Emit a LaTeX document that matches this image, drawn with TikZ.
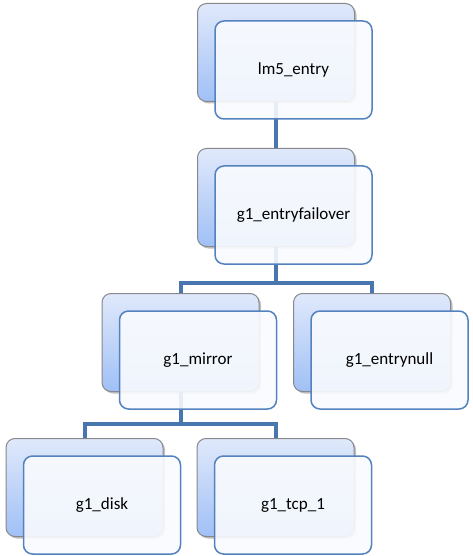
\documentclass[tikz,border=0pt]{standalone}
\usepackage{fontspec}
\setmainfont{Carlito}
\usetikzlibrary{shadows}
\definecolor{conn}{RGB}{74,118,175}
\definecolor{frontblue}{RGB}{84,130,190}
\definecolor{frontfill}{RGB}{249,251,254}
\definecolor{backgray}{RGB}{135,135,140}
\definecolor{backtop}{RGB}{224,233,251}
\definecolor{backbot}{RGB}{160,192,246}
\begin{document}
\begin{tikzpicture}[x=1pt,y=-1pt,
  backbox/.style={rounded corners=9pt, minimum width=157pt, minimum height=98pt, inner sep=0pt,
    draw=backgray, line width=1pt, top color=backtop, bottom color=backbot,
    drop shadow={shadow xshift=2pt, shadow yshift=-2pt, opacity=0.35, fill=black!70}},
  frontbox/.style={rounded corners=9pt, minimum width=157pt, minimum height=98pt, inner sep=0pt,
    draw=frontblue, line width=1.5pt, fill=frontfill, fill opacity=0.9, text opacity=1,
    font=\fontsize{17}{20}\selectfont},
  link/.style={draw=conn, line width=4pt}]
\useasboundingbox (0,0) rectangle (472,556);
% back boxes
\node[backbox] (lmb) at (276,52.5) {};
\node[backbox] (fob) at (276,197.5) {};
\node[backbox] (mib) at (180.5,342.5) {};
\node[backbox] (enb) at (372,342.5) {};
\node[backbox] (dib) at (84.5,487.5) {};
\node[backbox] (tcb) at (275.5,487.5) {};
% connectors
\coordinate (j1) at (276,283);
\coordinate (j2) at (180.5,424);
\draw[link] (lmb.south) -- (fob.north);
\draw[link] (fob.south) -- (j1);
\draw[link] (mib.north) |- (j1) -| (enb.north);
\draw[link] (mib.south) -- (j2);
\draw[link] (dib.north) |- (j2) -| (tcb.north);
% front boxes
\node[frontbox] (lm) at (293.5,70) {lm5\_entry};
\node[frontbox] (fo) at (293.5,215) {g1\_entryfailover};
\node[frontbox] (mi) at (198,360) {g1\_mirror};
\node[frontbox] (en) at (389.5,360) {g1\_entrynull};
\node[frontbox] (di) at (102,505) {g1\_disk};
\node[frontbox] (tc) at (293,505) {g1\_tcp\_1};
\end{tikzpicture}
\end{document}
